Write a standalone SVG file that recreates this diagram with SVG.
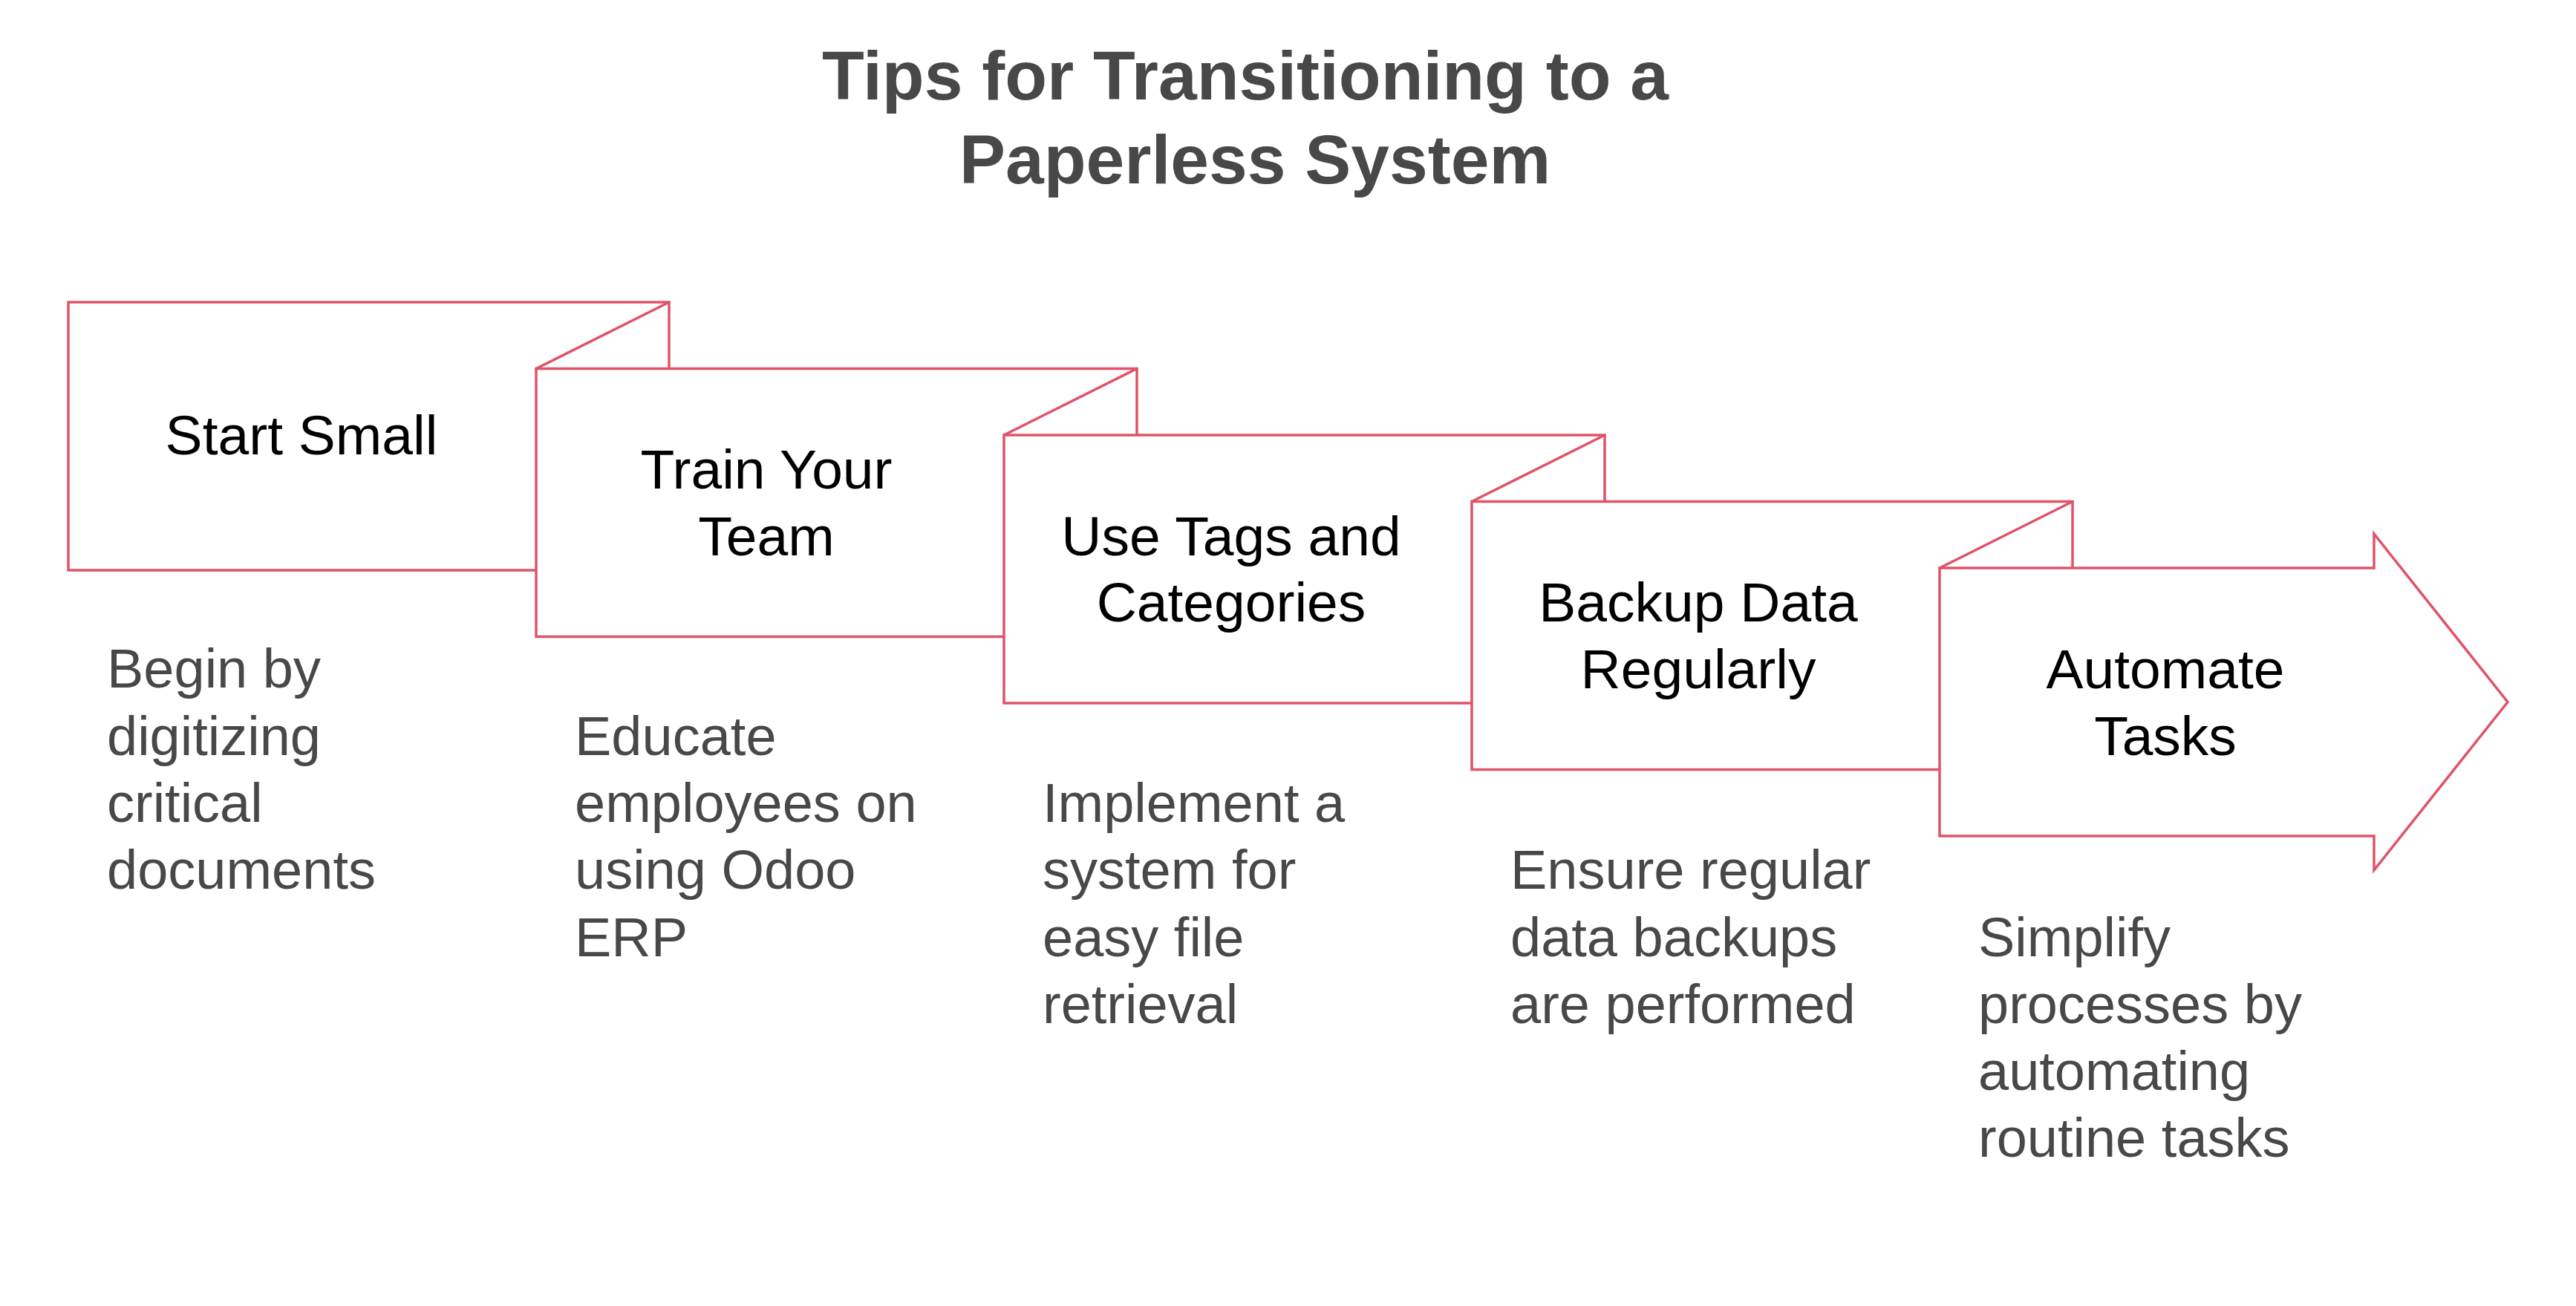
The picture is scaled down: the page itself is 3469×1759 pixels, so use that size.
<svg xmlns="http://www.w3.org/2000/svg" width="3469" height="1759" viewBox="0 0 3469 1759">
  <style>
    .shape { fill: #ffffff; stroke: #DF5369; stroke-width: 3.5; stroke-linejoin: miter; }
    .fold { fill: none; stroke: #DF5369; stroke-width: 3.5; stroke-linecap: round; }
    .title { font-family: "Liberation Sans", Arial, sans-serif; font-size: 93px; font-weight: bold; fill: #484848; text-anchor: middle; }
    .label { font-family: "Liberation Sans", Arial, sans-serif; font-size: 75px; fill: #000000; text-anchor: middle; }
    .desc { font-family: "Liberation Sans", Arial, sans-serif; font-size: 74px; fill: #484848; }
  </style>
  <rect x="0" y="0" width="3469" height="1759" fill="#ffffff"/>

  <g id="title">
    <text class="title" x="1677" y="134">Tips for Transitioning to a</text>
    <text class="title" x="1690" y="247">Paperless System</text>
  </g>

  <g id="node-start-small">
    <rect class="shape" x="92" y="407" width="809" height="361"/>
    <text class="label" x="406" y="612">Start Small</text>
  </g>

  <g id="node-train-your-team">
    <rect class="shape" x="722" y="496.5" width="809" height="361"/>
    <text class="label" x="1032" y="658">Train Your</text>
    <text class="label" x="1032" y="748">Team</text>
  </g>

  <g id="node-use-tags">
    <rect class="shape" x="1352" y="586" width="809" height="361"/>
    <text class="label" x="1658" y="748">Use Tags and</text>
    <text class="label" x="1658" y="837">Categories</text>
  </g>

  <g id="node-backup-data">
    <rect class="shape" x="1982" y="675.5" width="809" height="361"/>
    <text class="label" x="2287" y="837">Backup Data</text>
    <text class="label" x="2287" y="927">Regularly</text>
  </g>

  <g id="node-automate-tasks">
    <polygon class="shape" points="2612,765 3197,765 3197,719 3377,945.5 3197,1172 3197,1126 2612,1126"/>
    <text class="label" x="2916" y="927">Automate</text>
    <text class="label" x="2916" y="1017">Tasks</text>
  </g>

  <g id="folds">
    <line class="fold" x1="901" y1="407" x2="722" y2="496.5"/>
    <line class="fold" x1="1531" y1="496.5" x2="1352" y2="586"/>
    <line class="fold" x1="2161" y1="586" x2="1982" y2="675.5"/>
    <line class="fold" x1="2791" y1="675.5" x2="2612" y2="765"/>
  </g>

  <g id="connectors"></g>

  <g id="desc-start-small">
    <text class="desc" x="144" y="926">Begin by</text>
    <text class="desc" x="144" y="1017">digitizing</text>
    <text class="desc" x="144" y="1107">critical</text>
    <text class="desc" x="144" y="1197">documents</text>
  </g>
  <g id="desc-train-your-team">
    <text class="desc" x="774" y="1017">Educate</text>
    <text class="desc" x="774" y="1107">employees on</text>
    <text class="desc" x="774" y="1197">using Odoo</text>
    <text class="desc" x="774" y="1288">ERP</text>
  </g>
  <g id="desc-use-tags">
    <text class="desc" x="1404" y="1107">Implement a</text>
    <text class="desc" x="1404" y="1197">system for</text>
    <text class="desc" x="1404" y="1288">easy file</text>
    <text class="desc" x="1404" y="1378">retrieval</text>
  </g>
  <g id="desc-backup-data">
    <text class="desc" x="2034" y="1197">Ensure regular</text>
    <text class="desc" x="2034" y="1288">data backups</text>
    <text class="desc" x="2034" y="1378">are performed</text>
  </g>
  <g id="desc-automate-tasks">
    <text class="desc" x="2664" y="1288">Simplify</text>
    <text class="desc" x="2664" y="1378">processes by</text>
    <text class="desc" x="2664" y="1468">automating</text>
    <text class="desc" x="2664" y="1558">routine tasks</text>
  </g>
</svg>
